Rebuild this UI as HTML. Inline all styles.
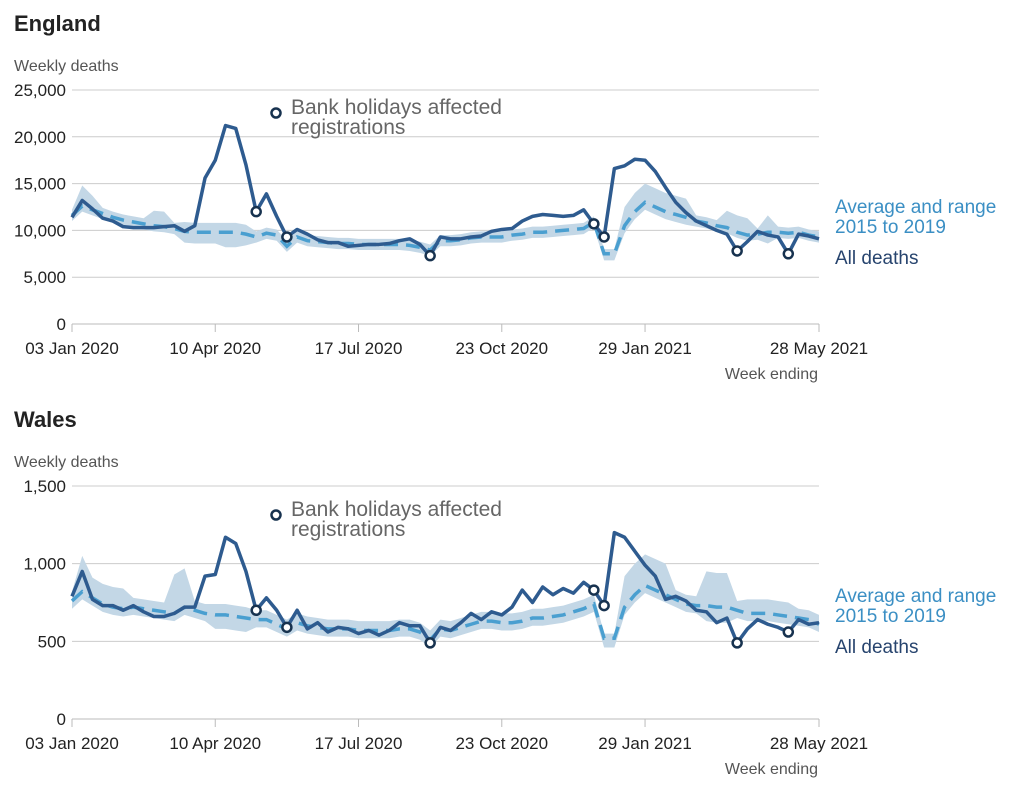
<!DOCTYPE html>
<html><head><meta charset="utf-8"><style>
body{margin:0;background:#fff;}
svg{display:block;font-family:"Liberation Sans",sans-serif;}
</style></head><body>
<svg id="s" width="1024" height="792" xmlns="http://www.w3.org/2000/svg"></svg>
<script>
const S=document.getElementById('s');let h='';
const X0=72,X1=819,N=74,dx=(X1-X0)/(N-1);
function xs(i){return X0+i*dx;}
function chart(o){
 const {top,bot,max,ticks,fmt,all,avg,wd,circ,title,ty}=o;
 const Y=v=>bot-(v/max)*(bot-top);
 h+=`<text x="14" y="${ty}" font-size="22" font-weight="bold" fill="#222">${title}</text>`;
 h+=`<text x="14" y="${ty+40}" font-size="16" fill="#555">Weekly deaths</text>`;
 ticks.forEach(t=>{const y=Y(t);h+=`<line x1="72" x2="819" y1="${y}" y2="${y}" stroke="#ccc" stroke-width="1"/>`;
  h+=`<text x="66" y="${y+6}" font-size="17" fill="#222" text-anchor="end">${fmt(t)}</text>`;});
 h+=`<line x1="72" x2="819" y1="${bot}" y2="${bot}" stroke="#bbb"/>`;
 [[0,'03 Jan 2020'],[14,'10 Apr 2020'],[28,'17 Jul 2020'],[42,'23 Oct 2020'],[56,'29 Jan 2021'],[73,'28 May 2021']].forEach(([i,l])=>{
  const x=xs(i);h+=`<line x1="${x}" x2="${x}" y1="${bot}" y2="${bot+8}" stroke="#bbb"/>`;
  h+=`<text x="${x}" y="${bot+30}" font-size="17" fill="#222" text-anchor="middle">${l}</text>`;});
 h+=`<text x="818" y="${bot+55}" font-size="16" fill="#555" text-anchor="end">Week ending</text>`;
 let up=[],lo=[];avg.forEach((v,i)=>{up.push(xs(i)+','+Y(v+wd[i][1]));lo.push(xs(i)+','+Y(v-wd[i][0]));});
 h+=`<polygon points="${up.join(' ')} ${lo.reverse().join(' ')}" fill="#c3d7e6"/>`;
 h+=`<polyline points="${avg.map((v,i)=>xs(i)+','+Y(v)).join(' ')}" fill="none" stroke="#4a9fd0" stroke-width="3.5" stroke-dasharray="14,8"/>`;
 h+=`<polyline points="${all.map((v,i)=>xs(i)+','+Y(v)).join(' ')}" fill="none" stroke="#2e5b8f" stroke-width="3.5" stroke-linejoin="round"/>`;
 circ.forEach(i=>{h+=`<circle cx="${xs(i)}" cy="${Y(all[i])}" r="4.5" fill="#fff" stroke="#17324f" stroke-width="2.5"/>`;});
 h+=`<circle cx="276" cy="${o.ly}" r="4.5" fill="#fff" stroke="#17324f" stroke-width="2.5"/>`;
 h+=`<text x="291" y="${o.ly+1}" font-size="21" fill="#666">Bank holidays affected</text>`;
 h+=`<text x="291" y="${o.ly+21}" font-size="21" fill="#666">registrations</text>`;
 h+=`<text x="835" y="${o.ay}" font-size="19" fill="#3b8fc4">Average and range</text>`;
 h+=`<text x="835" y="${o.ay+20}" font-size="19" fill="#3b8fc4">2015 to 2019</text>`;
 h+=`<text x="835" y="${o.ay+51}" font-size="19" fill="#27446e">All deaths</text>`;
}
const eAll=[11.4,13.2,12.3,11.3,11.0,10.4,10.3,10.3,10.3,10.4,10.5,9.9,10.5,15.6,17.5,21.2,20.9,17.0,12.0,13.9,11.5,9.3,10.1,9.6,9.0,8.7,8.7,8.3,8.4,8.5,8.5,8.6,8.9,9.1,8.5,7.3,9.3,9.1,9.1,9.3,9.4,9.9,10.1,10.2,11.0,11.5,11.7,11.6,11.5,11.6,12.2,10.7,9.3,16.6,16.9,17.6,17.5,16.3,14.6,13.0,11.9,11.0,10.5,10.0,9.6,7.8,8.8,9.9,9.5,9.3,7.5,9.6,9.4,9.1].map(v=>v*1000);
const eAvg=[11.6,12.6,12.2,11.8,11.4,11.1,10.9,10.7,10.5,10.4,10.2,9.9,9.8,9.8,9.8,9.8,9.8,9.6,9.3,9.7,9.5,8.3,9.3,8.9,8.8,8.7,8.6,8.6,8.5,8.5,8.5,8.5,8.5,8.4,8.2,7.9,8.9,8.9,9.0,9.2,9.3,9.3,9.3,9.5,9.6,9.8,9.8,9.9,10.0,10.1,10.2,10.9,7.5,7.5,10.5,12.0,13.0,12.5,12.0,11.7,11.4,11.0,10.8,10.5,10.3,9.8,9.5,9.6,9.8,9.8,9.7,9.8,9.5,9.3].map(v=>v*1000);
const eWd=eAvg.map((v,i)=>{let a=600,b=600;if(i==1){b=2200;}if(i==2)b=1500;if(i==8||i==9)b=1600;if(i>=11&&i<=17){a=1200;b=1000;}if(i==15||i==16)a=1600;if(i==52||i==53){a=700;b=500;}if(i>=54&&i<=60){b=2000;a=800;}if(i==64||i==65||i==66)b=1800;if(i==68){b=1800;a=1200;}return [a,b];});
const wAll=[790,950,770,730,730,700,730,690,660,660,680,720,720,920,930,1170,1130,950,700,780,700,590,700,580,620,560,590,580,550,570,540,570,620,600,600,490,590,570,620,680,640,690,670,720,830,750,850,800,840,810,880,830,730,1200,1170,1080,990,920,770,790,760,700,690,620,650,490,580,640,610,590,560,640,610,620];
const wAvg=[760,820,780,740,720,710,720,710,700,690,680,720,700,680,670,670,660,650,640,640,610,580,620,600,590,580,580,580,570,570,570,570,580,580,560,510,580,570,590,610,630,630,620,620,630,650,650,660,670,690,710,740,520,520,720,800,860,830,800,770,740,730,730,720,720,700,680,680,680,670,660,650,640,610];
const wWd=wAvg.map((v,i)=>{let a=50,b=60;if(i==1)b=230;if(i>=2&&i<=5)b=130;if(i==10||i==11)b=250;if(i>=14&&i<=17){a=90;b=70;}if(i==52||i==53){a=60;b=30;}if(i>=54&&i<=58)b=200;if(i>=62&&i<=64){a=100;b=220;}if(i>=66&&i<=70)b=90;return [a,b];});
chart({top:90,bot:324,max:25000,ticks:[0,5000,10000,15000,20000,25000],fmt:t=>t.toLocaleString('en-GB'),all:eAll,avg:eAvg,wd:eWd,circ:[18,21,35,51,52,65,70],title:'England',ty:31,ly:113,ay:213});
chart({top:486,bot:719,max:1500,ticks:[0,500,1000,1500],fmt:t=>t.toLocaleString('en-GB'),all:wAll,avg:wAvg,wd:wWd,circ:[18,21,35,51,52,65,70],title:'Wales',ty:427,ly:515,ay:602});
S.innerHTML=h;
</script>
</body></html>
